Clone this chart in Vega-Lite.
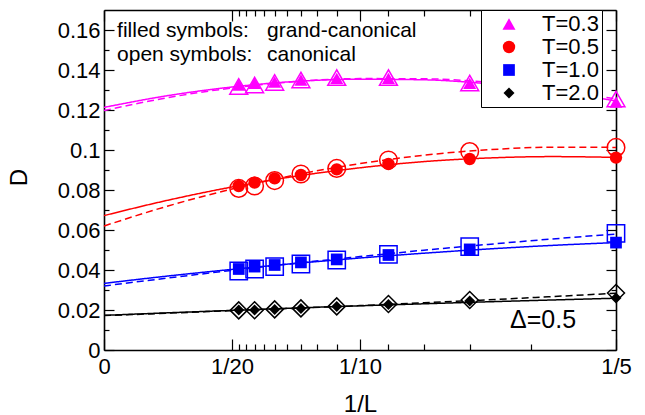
{
  "$schema": "https://vega.github.io/schema/vega-lite/v6.json",
  "autosize": {"type": "none"},
  "padding": {"left": 104, "top": 10, "right": 29, "bottom": 65},
  "width": 512,
  "height": 340,
  "background": "white",
  "config": {
    "view": {"stroke": null},
    "font": "Liberation Sans",
    "axis": {
      "domainColor": "black", "domainWidth": 1.6, "tickColor": "black", "tickWidth": 1.2,
      "labelColor": "black", "labelFontSize": 22, "titleFontSize": 24, "titleFontWeight": "normal",
      "titleColor": "black", "grid": false, "labelFlush": false, "labelOverlap": false
    },
    "text": {"font": "Liberation Sans", "color": "black"}
  },
  "datasets": {
    "pts": [
      {"T": "T=0.3", "ens": "gc", "L": 19, "x": 0.052632, "D": 0.1325},
      {"T": "T=0.3", "ens": "gc", "L": 17, "x": 0.058824, "D": 0.1333},
      {"T": "T=0.3", "ens": "gc", "L": 15, "x": 0.066667, "D": 0.134},
      {"T": "T=0.3", "ens": "gc", "L": 13, "x": 0.076923, "D": 0.135},
      {"T": "T=0.3", "ens": "gc", "L": 11, "x": 0.090909, "D": 0.1358},
      {"T": "T=0.3", "ens": "gc", "L": 9, "x": 0.111111, "D": 0.1358},
      {"T": "T=0.3", "ens": "gc", "L": 7, "x": 0.142857, "D": 0.1333},
      {"T": "T=0.3", "ens": "gc", "L": 5, "x": 0.2, "D": 0.124},
      {"T": "T=0.3", "ens": "c", "L": 19, "x": 0.052632, "D": 0.1318},
      {"T": "T=0.3", "ens": "c", "L": 17, "x": 0.058824, "D": 0.1325},
      {"T": "T=0.3", "ens": "c", "L": 15, "x": 0.066667, "D": 0.1338},
      {"T": "T=0.3", "ens": "c", "L": 13, "x": 0.076923, "D": 0.135},
      {"T": "T=0.3", "ens": "c", "L": 11, "x": 0.090909, "D": 0.1362},
      {"T": "T=0.3", "ens": "c", "L": 9, "x": 0.111111, "D": 0.1362},
      {"T": "T=0.3", "ens": "c", "L": 7, "x": 0.142857, "D": 0.1335},
      {"T": "T=0.3", "ens": "c", "L": 5, "x": 0.2, "D": 0.1255},
      {"T": "T=0.5", "ens": "gc", "L": 19, "x": 0.052632, "D": 0.082},
      {"T": "T=0.5", "ens": "gc", "L": 17, "x": 0.058824, "D": 0.0837},
      {"T": "T=0.5", "ens": "gc", "L": 15, "x": 0.066667, "D": 0.0858},
      {"T": "T=0.5", "ens": "gc", "L": 13, "x": 0.076923, "D": 0.0875},
      {"T": "T=0.5", "ens": "gc", "L": 11, "x": 0.090909, "D": 0.0903},
      {"T": "T=0.5", "ens": "gc", "L": 9, "x": 0.111111, "D": 0.093},
      {"T": "T=0.5", "ens": "gc", "L": 7, "x": 0.142857, "D": 0.0955},
      {"T": "T=0.5", "ens": "gc", "L": 5, "x": 0.2, "D": 0.0962},
      {"T": "T=0.5", "ens": "c", "L": 19, "x": 0.052632, "D": 0.0808},
      {"T": "T=0.5", "ens": "c", "L": 17, "x": 0.058824, "D": 0.082},
      {"T": "T=0.5", "ens": "c", "L": 15, "x": 0.066667, "D": 0.0847},
      {"T": "T=0.5", "ens": "c", "L": 13, "x": 0.076923, "D": 0.088},
      {"T": "T=0.5", "ens": "c", "L": 11, "x": 0.090909, "D": 0.0908},
      {"T": "T=0.5", "ens": "c", "L": 9, "x": 0.111111, "D": 0.095},
      {"T": "T=0.5", "ens": "c", "L": 7, "x": 0.142857, "D": 0.0992},
      {"T": "T=0.5", "ens": "c", "L": 5, "x": 0.2, "D": 0.1013},
      {"T": "T=1.0", "ens": "gc", "L": 19, "x": 0.052632, "D": 0.0405},
      {"T": "T=1.0", "ens": "gc", "L": 17, "x": 0.058824, "D": 0.0417},
      {"T": "T=1.0", "ens": "gc", "L": 15, "x": 0.066667, "D": 0.0425},
      {"T": "T=1.0", "ens": "gc", "L": 13, "x": 0.076923, "D": 0.0438},
      {"T": "T=1.0", "ens": "gc", "L": 11, "x": 0.090909, "D": 0.0453},
      {"T": "T=1.0", "ens": "gc", "L": 9, "x": 0.111111, "D": 0.0475},
      {"T": "T=1.0", "ens": "gc", "L": 7, "x": 0.142857, "D": 0.0503},
      {"T": "T=1.0", "ens": "gc", "L": 5, "x": 0.2, "D": 0.0537},
      {"T": "T=1.0", "ens": "c", "L": 19, "x": 0.052632, "D": 0.0395},
      {"T": "T=1.0", "ens": "c", "L": 17, "x": 0.058824, "D": 0.0405},
      {"T": "T=1.0", "ens": "c", "L": 15, "x": 0.066667, "D": 0.0417},
      {"T": "T=1.0", "ens": "c", "L": 13, "x": 0.076923, "D": 0.043},
      {"T": "T=1.0", "ens": "c", "L": 11, "x": 0.090909, "D": 0.045},
      {"T": "T=1.0", "ens": "c", "L": 9, "x": 0.111111, "D": 0.0478},
      {"T": "T=1.0", "ens": "c", "L": 7, "x": 0.142857, "D": 0.0517},
      {"T": "T=1.0", "ens": "c", "L": 5, "x": 0.2, "D": 0.0583},
      {"T": "T=2.0", "ens": "gc", "L": 19, "x": 0.052632, "D": 0.02},
      {"T": "T=2.0", "ens": "gc", "L": 17, "x": 0.058824, "D": 0.02},
      {"T": "T=2.0", "ens": "gc", "L": 15, "x": 0.066667, "D": 0.0203},
      {"T": "T=2.0", "ens": "gc", "L": 13, "x": 0.076923, "D": 0.0208},
      {"T": "T=2.0", "ens": "gc", "L": 11, "x": 0.090909, "D": 0.0217},
      {"T": "T=2.0", "ens": "gc", "L": 9, "x": 0.111111, "D": 0.0228},
      {"T": "T=2.0", "ens": "gc", "L": 7, "x": 0.142857, "D": 0.0245},
      {"T": "T=2.0", "ens": "gc", "L": 5, "x": 0.2, "D": 0.026},
      {"T": "T=2.0", "ens": "c", "L": 19, "x": 0.052632, "D": 0.0198},
      {"T": "T=2.0", "ens": "c", "L": 17, "x": 0.058824, "D": 0.0199},
      {"T": "T=2.0", "ens": "c", "L": 15, "x": 0.066667, "D": 0.0203},
      {"T": "T=2.0", "ens": "c", "L": 13, "x": 0.076923, "D": 0.0208},
      {"T": "T=2.0", "ens": "c", "L": 11, "x": 0.090909, "D": 0.0218},
      {"T": "T=2.0", "ens": "c", "L": 9, "x": 0.111111, "D": 0.023},
      {"T": "T=2.0", "ens": "c", "L": 7, "x": 0.142857, "D": 0.025},
      {"T": "T=2.0", "ens": "c", "L": 5, "x": 0.2, "D": 0.0285}
    ],
    "fits": [
      {"T": "T=0.3", "ens": "gc", "x": 0, "D": 0.1213},
      {"T": "T=0.3", "ens": "gc", "x": 0.025, "D": 0.1272},
      {"T": "T=0.3", "ens": "gc", "x": 0.05, "D": 0.1315},
      {"T": "T=0.3", "ens": "gc", "x": 0.075, "D": 0.1343},
      {"T": "T=0.3", "ens": "gc", "x": 0.1, "D": 0.1354},
      {"T": "T=0.3", "ens": "gc", "x": 0.125, "D": 0.1351},
      {"T": "T=0.3", "ens": "gc", "x": 0.15, "D": 0.1331},
      {"T": "T=0.3", "ens": "gc", "x": 0.175, "D": 0.1296},
      {"T": "T=0.3", "ens": "gc", "x": 0.2, "D": 0.1245},
      {"T": "T=0.3", "ens": "c", "x": 0, "D": 0.1197},
      {"T": "T=0.3", "ens": "c", "x": 0.025, "D": 0.1262},
      {"T": "T=0.3", "ens": "c", "x": 0.05, "D": 0.131},
      {"T": "T=0.3", "ens": "c", "x": 0.075, "D": 0.1342},
      {"T": "T=0.3", "ens": "c", "x": 0.1, "D": 0.1357},
      {"T": "T=0.3", "ens": "c", "x": 0.125, "D": 0.1356},
      {"T": "T=0.3", "ens": "c", "x": 0.15, "D": 0.1339},
      {"T": "T=0.3", "ens": "c", "x": 0.175, "D": 0.1305},
      {"T": "T=0.3", "ens": "c", "x": 0.2, "D": 0.1255},
      {"T": "T=0.5", "ens": "gc", "x": 0, "D": 0.0672},
      {"T": "T=0.5", "ens": "gc", "x": 0.025, "D": 0.0749},
      {"T": "T=0.5", "ens": "gc", "x": 0.05, "D": 0.0815},
      {"T": "T=0.5", "ens": "gc", "x": 0.075, "D": 0.0869},
      {"T": "T=0.5", "ens": "gc", "x": 0.1, "D": 0.0911},
      {"T": "T=0.5", "ens": "gc", "x": 0.125, "D": 0.0942},
      {"T": "T=0.5", "ens": "gc", "x": 0.15, "D": 0.096},
      {"T": "T=0.5", "ens": "gc", "x": 0.175, "D": 0.0967},
      {"T": "T=0.5", "ens": "gc", "x": 0.2, "D": 0.0963},
      {"T": "T=0.5", "ens": "c", "x": 0, "D": 0.062},
      {"T": "T=0.5", "ens": "c", "x": 0.025, "D": 0.072},
      {"T": "T=0.5", "ens": "c", "x": 0.05, "D": 0.0805},
      {"T": "T=0.5", "ens": "c", "x": 0.075, "D": 0.0876},
      {"T": "T=0.5", "ens": "c", "x": 0.1, "D": 0.0932},
      {"T": "T=0.5", "ens": "c", "x": 0.125, "D": 0.0974},
      {"T": "T=0.5", "ens": "c", "x": 0.15, "D": 0.1001},
      {"T": "T=0.5", "ens": "c", "x": 0.175, "D": 0.1014},
      {"T": "T=0.5", "ens": "c", "x": 0.2, "D": 0.1013},
      {"T": "T=1.0", "ens": "gc", "x": 0, "D": 0.0333},
      {"T": "T=1.0", "ens": "gc", "x": 0.025, "D": 0.037},
      {"T": "T=1.0", "ens": "gc", "x": 0.05, "D": 0.0403},
      {"T": "T=1.0", "ens": "gc", "x": 0.075, "D": 0.0433},
      {"T": "T=1.0", "ens": "gc", "x": 0.1, "D": 0.046},
      {"T": "T=1.0", "ens": "gc", "x": 0.125, "D": 0.0484},
      {"T": "T=1.0", "ens": "gc", "x": 0.15, "D": 0.0505},
      {"T": "T=1.0", "ens": "gc", "x": 0.175, "D": 0.0523},
      {"T": "T=1.0", "ens": "gc", "x": 0.2, "D": 0.0537},
      {"T": "T=1.0", "ens": "c", "x": 0, "D": 0.032},
      {"T": "T=1.0", "ens": "c", "x": 0.025, "D": 0.036},
      {"T": "T=1.0", "ens": "c", "x": 0.05, "D": 0.0398},
      {"T": "T=1.0", "ens": "c", "x": 0.075, "D": 0.0434},
      {"T": "T=1.0", "ens": "c", "x": 0.1, "D": 0.0467},
      {"T": "T=1.0", "ens": "c", "x": 0.125, "D": 0.0499},
      {"T": "T=1.0", "ens": "c", "x": 0.15, "D": 0.0528},
      {"T": "T=1.0", "ens": "c", "x": 0.175, "D": 0.0555},
      {"T": "T=1.0", "ens": "c", "x": 0.2, "D": 0.058},
      {"T": "T=2.0", "ens": "gc", "x": 0, "D": 0.0173},
      {"T": "T=2.0", "ens": "gc", "x": 0.025, "D": 0.0186},
      {"T": "T=2.0", "ens": "gc", "x": 0.05, "D": 0.0198},
      {"T": "T=2.0", "ens": "gc", "x": 0.075, "D": 0.021},
      {"T": "T=2.0", "ens": "gc", "x": 0.1, "D": 0.0221},
      {"T": "T=2.0", "ens": "gc", "x": 0.125, "D": 0.0231},
      {"T": "T=2.0", "ens": "gc", "x": 0.15, "D": 0.0241},
      {"T": "T=2.0", "ens": "gc", "x": 0.175, "D": 0.025},
      {"T": "T=2.0", "ens": "gc", "x": 0.2, "D": 0.0259},
      {"T": "T=2.0", "ens": "c", "x": 0, "D": 0.0172},
      {"T": "T=2.0", "ens": "c", "x": 0.025, "D": 0.0184},
      {"T": "T=2.0", "ens": "c", "x": 0.05, "D": 0.0197},
      {"T": "T=2.0", "ens": "c", "x": 0.075, "D": 0.0209},
      {"T": "T=2.0", "ens": "c", "x": 0.1, "D": 0.0222},
      {"T": "T=2.0", "ens": "c", "x": 0.125, "D": 0.0236},
      {"T": "T=2.0", "ens": "c", "x": 0.15, "D": 0.0251},
      {"T": "T=2.0", "ens": "c", "x": 0.175, "D": 0.0267},
      {"T": "T=2.0", "ens": "c", "x": 0.2, "D": 0.0284}
    ],
    "notes": [
      {"label": "filled symbols:", "x": 0.0051, "D": 0.1565, "size": "n"},
      {"label": "grand-canonical", "x": 0.0637, "D": 0.1565, "size": "n"},
      {"label": "open symbols:", "x": 0.0051, "D": 0.1445, "size": "n"},
      {"label": "canonical", "x": 0.0637, "D": 0.1445, "size": "n"},
      {"label": "Δ=0.5", "x": 0.1586, "D": 0.011, "size": "b"}
    ]
  },
  "resolve": {
    "axis": {"x": "independent", "y": "independent"},
    "scale": {"size": "independent"},
    "legend": {"color": "independent", "shape": "independent"}
  },
  "layer": [
    {
      "data": {"name": "fits"},
      "mark": {"type": "line", "strokeWidth": 1.5, "interpolate": "monotone"},
      "encoding": {
        "x": {
          "field": "x", "type": "quantitative",
          "scale": {"domain": [0, 0.2], "nice": false, "zero": false},
          "axis": {
            "orient": "bottom", "title": "1/L",
            "values": [0, 0.05, 0.052632, 0.055556, 0.058824, 0.0625, 0.066667, 0.071429, 0.076923, 0.083333, 0.090909, 0.1, 0.111111, 0.125, 0.142857, 0.166667, 0.2],
            "labelExpr": "datum.value == 0 ? '0' : datum.value == 0.05 ? '1/20' : datum.value == 0.1 ? '1/10' : datum.value == 0.2 ? '1/5' : ''",
            "tickSize": {"condition": {"test": "datum.value == 0 || datum.value == 0.05 || datum.value == 0.1 || datum.value == 0.2", "value": -11}, "value": -6},
            "labelPadding": 17,
            "titleX": 256, "titleY": 54, "titleBaseline": "middle", "titleAlign": "center"
          }
        },
        "y": {
          "field": "D", "type": "quantitative",
          "scale": {"domain": [0, 0.17], "nice": false, "zero": false},
          "axis": {
            "orient": "left", "title": "D",
            "values": [0, 0.01, 0.02, 0.03, 0.04, 0.05, 0.06, 0.07, 0.08, 0.09, 0.1, 0.11, 0.12, 0.13, 0.14, 0.15, 0.16],
            "labelExpr": "abs(datum.value*50 - round(datum.value*50)) < 1e-6 ? format(datum.value, '.2~f') : ''",
            "tickSize": {"condition": {"test": "abs(datum.value*50 - round(datum.value*50)) < 1e-6", "value": -10}, "value": -5},
            "labelPadding": 14,
            "titleX": -85, "titleY": 167, "titleAngle": -90, "titleBaseline": "middle", "titleAlign": "center"
          }
        },
        "color": {"field": "T", "type": "nominal", "scale": {"domain": ["T=0.3", "T=0.5", "T=1.0", "T=2.0"], "range": ["#ff00ff", "#ff0000", "#0000ff", "#000000"]}, "legend": null},
        "strokeDash": {"field": "ens", "type": "nominal", "scale": {"domain": ["gc", "c"], "range": [[1, 0], [7, 4]]}, "legend": null}
      }
    },
    {
      "data": {"name": "pts"},
      "transform": [{"filter": "datum.ens == 'c'"}],
      "mark": {"type": "point", "filled": false, "strokeWidth": 1.5, "opacity": 1},
      "encoding": {
        "x": {"field": "x", "type": "quantitative", "scale": {"domain": [0, 0.2], "nice": false, "zero": false}, "axis": null},
        "y": {"field": "D", "type": "quantitative", "scale": {"domain": [0, 0.17], "nice": false, "zero": false}, "axis": null},
        "color": {"field": "T", "type": "nominal", "scale": {"domain": ["T=0.3", "T=0.5", "T=1.0", "T=2.0"], "range": ["#ff00ff", "#ff0000", "#0000ff", "#000000"]}, "legend": null},
        "shape": {"field": "T", "type": "nominal", "scale": {"domain": ["T=0.3", "T=0.5", "T=1.0", "T=2.0"], "range": ["triangle-up", "circle", "square", "diamond"]}, "legend": null},
        "size": {"field": "T", "type": "nominal", "scale": {"domain": ["T=0.3", "T=0.5", "T=1.0", "T=2.0"], "range": [320, 289, 225, 324]}, "legend": null}
      }
    },
    {
      "data": {"name": "pts"},
      "transform": [{"filter": "datum.ens == 'gc'"}],
      "mark": {"type": "point", "filled": true, "opacity": 1},
      "encoding": {
        "x": {
          "field": "x", "type": "quantitative", "scale": {"domain": [0, 0.2], "nice": false, "zero": false},
          "axis": {
            "orient": "top", "title": null, "labels": false,
            "values": [0, 0.05, 0.052632, 0.055556, 0.058824, 0.0625, 0.066667, 0.071429, 0.076923, 0.083333, 0.090909, 0.1, 0.111111, 0.125, 0.142857, 0.166667, 0.2],
            "tickSize": {"condition": {"test": "datum.value == 0 || datum.value == 0.05 || datum.value == 0.1 || datum.value == 0.2", "value": -11}, "value": -6}
          }
        },
        "y": {
          "field": "D", "type": "quantitative", "scale": {"domain": [0, 0.17], "nice": false, "zero": false},
          "axis": {
            "orient": "right", "title": null, "labels": false,
            "values": [0, 0.01, 0.02, 0.03, 0.04, 0.05, 0.06, 0.07, 0.08, 0.09, 0.1, 0.11, 0.12, 0.13, 0.14, 0.15, 0.16],
            "tickSize": {"condition": {"test": "abs(datum.value*50 - round(datum.value*50)) < 1e-6", "value": -10}, "value": -5}
          }
        },
        "color": {
          "field": "T", "type": "nominal",
          "scale": {"domain": ["T=0.3", "T=0.5", "T=1.0", "T=2.0"], "range": ["#ff00ff", "#ff0000", "#0000ff", "#000000"]},
          "legend": {
            "title": null, "orient": "none", "legendX": 377, "legendY": 0,
            "strokeColor": "black", "fillColor": "white", "padding": 3, "cornerRadius": 0,
            "labelFontSize": 22, "labelColor": "black", "labelFont": "Liberation Sans",
            "symbolSize": 140, "rowPadding": 1, "symbolOffset": 14, "labelOffset": 22, "symbolStrokeWidth": 0
          }
        },
        "shape": {
          "field": "T", "type": "nominal",
          "scale": {"domain": ["T=0.3", "T=0.5", "T=1.0", "T=2.0"], "range": ["triangle-up", "circle", "square", "diamond"]},
          "legend": {
            "title": null, "orient": "none", "legendX": 377, "legendY": 0,
            "strokeColor": "black", "fillColor": "white", "padding": 3, "cornerRadius": 0,
            "labelFontSize": 22, "labelColor": "black", "labelFont": "Liberation Sans",
            "symbolSize": 140, "rowPadding": 1, "symbolOffset": 14, "labelOffset": 22, "symbolStrokeWidth": 0
          }
        },
        "size": {"field": "T", "type": "nominal", "scale": {"domain": ["T=0.3", "T=0.5", "T=1.0", "T=2.0"], "range": [170, 121, 81, 144]}, "legend": null}
      }
    },
    {
      "data": {"name": "notes"},
      "mark": {"type": "text", "align": "left", "baseline": "alphabetic", "font": "Liberation Sans", "color": "black"},
      "encoding": {
        "x": {"field": "x", "type": "quantitative", "scale": {"domain": [0, 0.2], "nice": false, "zero": false}, "axis": null},
        "y": {"field": "D", "type": "quantitative", "scale": {"domain": [0, 0.17], "nice": false, "zero": false}, "axis": null},
        "text": {"field": "label"},
        "size": {"field": "size", "type": "nominal", "scale": {"domain": ["n", "b"], "range": [21, 25]}, "legend": null}
      }
    }
  ]
}
